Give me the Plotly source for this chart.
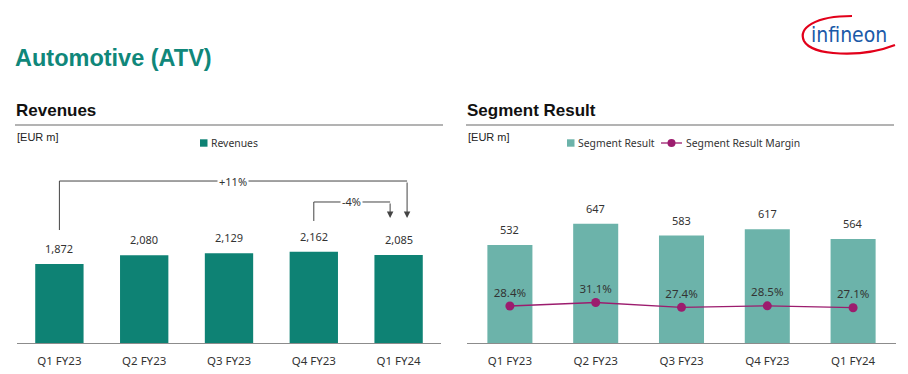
import plotly.graph_objects as go

# The page body has an 8px margin, so the figure is drawn 8px in from the
# top-left corner of the 908x374 window.
WIN_W, WIN_H = 908, 374
OFF = 8
W, H = WIN_W - OFF, WIN_H - OFF

# ---- data ----
categories = ["Q1 FY23", "Q2 FY23", "Q3 FY23", "Q4 FY23", "Q1 FY24"]
revenues = [1872, 2080, 2129, 2162, 2085]
segment_result = [532, 647, 583, 617, 564]
segment_margin = [28.4, 31.1, 27.4, 28.5, 27.1]
yoy_label = "+11%"
qoq_label = "-4%"


def px(x):
    return (x - OFF) / W


def py(y):
    return 1 - (y - OFF) / H


FONT = "Noto Sans, Lato, sans-serif"
HFONT = "Liberation Sans, Arial, sans-serif"
TXT = "#333333"
C_REV = "#0e8274"
C_SEG = "#6cb3aa"
C_MAR = "#9c1c6e"

fig = go.Figure()

fig.add_trace(go.Bar(
    x=categories, y=revenues, name="Revenues",
    marker=dict(color=C_REV, line=dict(width=0)),
    width=0.57,
    xaxis="x", yaxis="y", showlegend=False,
))

fig.add_trace(go.Bar(
    x=categories, y=segment_result, name="Segment Result",
    marker=dict(color=C_SEG, line=dict(width=0)),
    width=0.525,
    xaxis="x2", yaxis="y2", showlegend=False,
))

fig.add_trace(go.Scatter(
    x=categories, y=segment_margin, name="Segment Result Margin",
    mode="lines+markers+text",
    line=dict(color=C_MAR, width=1.3),
    marker=dict(color=C_MAR, size=9),
    text=[f"{v:.1f}%" for v in segment_margin], textposition="top center",
    textfont=dict(size=11.5, color=TXT, family=FONT), cliponaxis=False,
    xaxis="x2", yaxis="y3", showlegend=False,
))

ydom = [py(343), py(170)]

shapes = []
annotations = []

# value labels above bars
for c, v in zip(categories, revenues):
    annotations.append(dict(text=f"{v:,}", xref="x", yref="y", x=c, y=v, yanchor="bottom",
                            yshift=6, showarrow=False, font=dict(family=FONT, size=11, color=TXT)))
for c, v in zip(categories, segment_result):
    annotations.append(dict(text=f"{v:,}", xref="x2", yref="y2", x=c, y=v, yanchor="bottom",
                            yshift=6, showarrow=False, font=dict(family=FONT, size=11, color=TXT)))

# header rules
shapes.append(dict(type="line", xref="paper", yref="paper", x0=px(15), x1=px(443), y0=py(125), y1=py(125),
                   line=dict(color="#9a9a9a", width=1.5)))
shapes.append(dict(type="line", xref="paper", yref="paper", x0=px(466), x1=px(894), y0=py(125), y1=py(125),
                   line=dict(color="#9a9a9a", width=1.5)))


def pt(x, y):
    return f"{px(x):.5f},{py(y):.5f}"


# logo swoosh
logo_path = ("M " + pt(852, 16) + " C " + pt(815, 16) + " " + pt(798, 28) + " " + pt(804, 41)
             + " C " + pt(812, 56) + " " + pt(862, 58) + " " + pt(895, 45))
shapes.append(dict(type="path", xref="paper", yref="paper", path=logo_path,
                   line=dict(color="#e2001a", width=2.2)))
annotations.append(dict(text="infineon", xref="paper", yref="paper", x=px(849), y=py(35),
                        xanchor="center", yanchor="middle", showarrow=False,
                        font=dict(family="Liberation Sans Narrow, DejaVu Sans Condensed, Arial Narrow, sans-serif",
                                  size=21, color="#1b5aa8")))

# titles
annotations.append(dict(text="<b>Automotive (ATV)</b>", xref="paper", yref="paper", x=px(13), y=py(58),
                        xanchor="left", yanchor="middle", showarrow=False,
                        font=dict(family=HFONT, size=23.5, color="#10877a")))
for xx, t in [(14, "Revenues"), (465, "Segment Result")]:
    annotations.append(dict(text=f"<b>{t}</b>", xref="paper", yref="paper", x=px(xx), y=py(111),
                            xanchor="left", yanchor="middle", showarrow=False,
                            font=dict(family=HFONT, size=17, color="#111111")))
    annotations.append(dict(text="[EUR m]", xref="paper", yref="paper", x=px(xx + 1), y=py(137),
                            xanchor="left", yanchor="middle", showarrow=False,
                            font=dict(family=HFONT, size=11, color="#222222")))

# hand-drawn legends
LEG_Y = 143
LEG_FONT = dict(family=FONT, size=10.4, color=TXT)


def legend_square(x0, color):
    shapes.append(dict(type="rect", xref="paper", yref="paper", x0=px(x0), x1=px(x0 + 7.5),
                       y0=py(LEG_Y + 3.7), y1=py(LEG_Y - 3.7), fillcolor=color, line=dict(width=0)))


def legend_text(x0, t):
    annotations.append(dict(text=t, xref="paper", yref="paper", x=px(x0), y=py(LEG_Y),
                            xanchor="left", yanchor="middle", showarrow=False, font=LEG_FONT))


legend_square(200, C_REV)
legend_text(209, "Revenues")
legend_square(567, C_SEG)
legend_text(576, "Segment Result")
shapes.append(dict(type="line", xref="paper", yref="paper", x0=px(661), x1=px(682), y0=py(LEG_Y), y1=py(LEG_Y),
                   line=dict(color=C_MAR, width=1.3)))
shapes.append(dict(type="circle", xref="paper", yref="paper", x0=px(667.5), x1=px(675.5),
                   y0=py(LEG_Y + 4), y1=py(LEG_Y - 4), fillcolor=C_MAR, line=dict(width=0)))
legend_text(684, "Segment Result Margin")

# growth brackets on revenue chart (data coordinates of left axis)
BR = "#444444"
yoy_top, yoy_start = 3838, 2677
qoq_top, qoq_start = 3341, 2891
tip = 2962
x_first, x_last, x_prev = 0, len(categories) - 1, len(categories) - 2
off = 0.1

shapes.append(dict(type="line", xref="x", yref="y", x0=x_first, x1=x_first, y0=yoy_start, y1=yoy_top,
                   line=dict(color=BR, width=1)))
shapes.append(dict(type="line", xref="x", yref="y", x0=x_first, x1=x_last + off, y0=yoy_top, y1=yoy_top,
                   line=dict(color=BR, width=1)))
shapes.append(dict(type="line", xref="x", yref="y", x0=x_prev, x1=x_prev, y0=qoq_start, y1=qoq_top,
                   line=dict(color=BR, width=1)))
shapes.append(dict(type="line", xref="x", yref="y", x0=x_prev, x1=x_last - off, y0=qoq_top, y1=qoq_top,
                   line=dict(color=BR, width=1)))

for xa, yt in [(x_last + off, yoy_top), (x_last - off, qoq_top)]:
    annotations.append(dict(text="", xref="x", yref="y", x=xa, y=tip, axref="x", ayref="y", ax=xa, ay=yt,
                            showarrow=True, arrowhead=2, arrowsize=1.3, arrowwidth=1, arrowcolor=BR))

annotations.append(dict(text=yoy_label, xref="x", yref="y", x=(x_first + x_last + off) / 2, y=yoy_top,
                        showarrow=False, bgcolor="white", borderpad=1,
                        font=dict(family=FONT, size=11, color=TXT)))
annotations.append(dict(text=qoq_label, xref="x", yref="y", x=(x_prev + x_last - off) / 2, y=qoq_top,
                        showarrow=False, bgcolor="white", borderpad=1,
                        font=dict(family=FONT, size=11, color=TXT)))

axis_common = dict(showline=True, linecolor="#8c8c8c", linewidth=1, ticks="", showgrid=False,
                   ticklabelstandoff=7,
                   tickfont=dict(family=FONT, size=11.5, color=TXT), fixedrange=True)

fig.update_layout(
    width=W, height=H,
    margin=dict(l=0, r=0, t=0, b=0),
    paper_bgcolor="white", plot_bgcolor="white",
    font=dict(family=FONT, color=TXT),
    xaxis=dict(domain=[px(17), px(441)], anchor="y", **axis_common),
    yaxis=dict(domain=ydom, range=[0, 4099], visible=False, fixedrange=True),
    xaxis2=dict(domain=[px(467), px(896)], anchor="y2", **axis_common),
    yaxis2=dict(domain=ydom, range=[0, 939], visible=False, fixedrange=True),
    yaxis3=dict(overlaying="y2", range=[0, 132.8], visible=False, fixedrange=True),
    showlegend=False,
    shapes=shapes,
    annotations=annotations,
)

fig.write_html("out.html")
